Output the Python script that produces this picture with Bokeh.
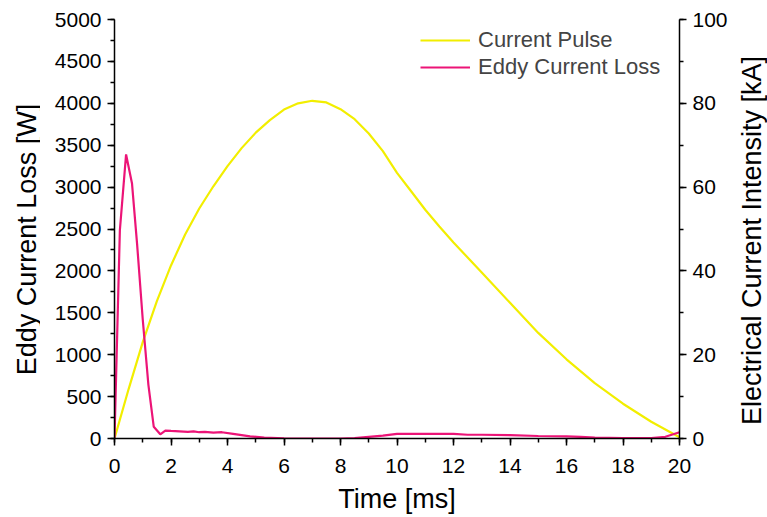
import math
from bokeh.plotting import figure
from bokeh.layouts import row
from bokeh.models import Range1d, LinearAxis, SingleIntervalTicker, Legend, LegendItem
from bokeh.core.properties import value
from bokeh.embed import file_html
from bokeh.resources import INLINE

# Eddy current loss [W] vs time [ms]
eddy_t = [0, 0.19, 0.41, 0.62, 0.8, 1.0, 1.2, 1.39, 1.62, 1.8, 2.0, 2.3, 2.6, 2.8, 3.0, 3.2, 3.5, 3.8,
          4.2, 4.8, 5.3, 6.0, 7.0, 8.0, 8.5, 9.0, 9.5, 10.0, 10.5, 11.0, 12.0, 12.5, 13.0, 14.0,
          15.0, 16.0, 16.5, 17.0, 18.0, 19.0, 19.5, 20.0]
eddy_w = [0, 2485, 3390, 3042, 2320, 1420, 640, 140, 50, 95, 90, 85, 80, 85, 75, 80, 70, 75,
          55, 25, 12, 3, 0, 0, 5, 20, 35, 55, 55, 55, 55, 45, 45, 40,
          30, 25, 20, 10, 5, 5, 20, 75]

# Current pulse [kA] vs time [ms]
pulse_t = [0, 0.5, 1, 1.5, 2, 2.5, 3, 3.5, 4, 4.5, 5, 5.5, 6, 6.5, 7, 7.5, 8, 8.5, 9, 9.5, 10,
           10.5, 11, 11.5, 12, 13, 14, 15, 16, 17, 18, 19, 20]
pulse_ka = [0, 11.8, 23, 32.8, 41.3, 48.7, 54.9, 60.2, 65, 69.3, 73, 76, 78.5, 80, 80.6, 80.2, 78.6, 76.2,
            72.8, 68.6, 63.4, 59, 54.6, 50.6, 46.8, 39.6, 32.4, 25.2, 18.9, 13.2, 8.3, 4, 0.3]

x_title = "Time [ms]"
left_title = "Eddy Current Loss [W]"
right_title = "Electrical Current Intensity [kA]"
series_names = ["Current Pulse", "Eddy Current Loss"]

YELLOW = "#f2ee00"
PINK = "#ec1477"
FONT = "Liberation Sans"
H = 517
TOP, BOTTOM = 19, 79
LEFT_W, MAIN_W, RIGHT_W = 40, 690, 37

p = figure(width=MAIN_W, height=H, output_backend="svg", toolbar_location=None,
           x_range=Range1d(0, 20), y_range=Range1d(0, 5000),
           min_border_left=74, min_border_right=50, min_border_top=TOP, min_border_bottom=BOTTOM)
p.outline_line_color = None
p.xgrid.visible = False
p.ygrid.visible = False
p.background_fill_color = "white"
p.border_fill_color = "white"

p.extra_y_ranges = {"ka": Range1d(0, 100)}
right = LinearAxis(y_range_name="ka",
                   ticker=SingleIntervalTicker(interval=20, num_minor_ticks=2))
p.add_layout(right, "right")

p.xaxis.ticker = SingleIntervalTicker(interval=2, num_minor_ticks=2)
p.yaxis[0].ticker = SingleIntervalTicker(interval=500, num_minor_ticks=2)
p.xaxis.axis_label = x_title

for ax in [p.xaxis[0], p.yaxis[0], right]:
    ax.axis_line_width = 1.5
    ax.axis_line_color = "black"
    ax.major_tick_line_width = 1.5
    ax.minor_tick_line_width = 1.5
    ax.major_tick_out = 7
    ax.major_tick_in = 0
    ax.minor_tick_out = 4
    ax.minor_tick_in = 0
    ax.major_label_text_font = FONT
    ax.major_label_text_font_size = "21px"
    ax.major_label_text_color = "black"
    ax.axis_label_text_font = FONT
    ax.axis_label_text_font_size = "27px"
    ax.axis_label_text_font_style = "normal"
    ax.axis_label_text_color = "black"
    ax.major_label_standoff = 6

p.xaxis[0].major_label_standoff = 13
p.xaxis[0].axis_label_standoff = 8

r1 = p.line(pulse_t, pulse_ka, y_range_name="ka", line_color=YELLOW, line_width=2.2)
r2 = p.line(eddy_t, eddy_w, line_color=PINK, line_width=2.2)

legend = Legend(items=[LegendItem(label=series_names[0], renderers=[r1]),
                       LegendItem(label=series_names[1], renderers=[r2])],
                location=(306, 358), border_line_color=None, background_fill_alpha=0,
                label_text_font=FONT, label_text_font_size="22px", glyph_width=50,
                label_standoff=8, spacing=1, padding=4, margin=0)
p.add_layout(legend)


def title_panel(width, text, cx, cy, size):
    # vertical title reading bottom-to-top, centred at cy (pixels from top).
    # The row aligns this panel's frame with the main frame (TOP .. H-BOTTOM),
    # so the y range is set so that data y = H - screen y.
    f = figure(width=width, height=H, output_backend="svg", toolbar_location=None,
               x_range=Range1d(0, width), y_range=Range1d(BOTTOM, H - TOP),
               x_axis_type=None, y_axis_type=None,
               min_border_left=0, min_border_right=0, min_border_top=TOP, min_border_bottom=BOTTOM)
    f.outline_line_color = None
    f.grid.visible = False
    f.background_fill_color = "white"
    f.border_fill_color = "white"
    f.text(x=[cx], y=[H - cy], text=[text], angle=math.pi / 2,
           text_align="center", text_baseline="middle",
           text_font=value(FONT), text_font_size=size, text_color="black")
    return f


left_panel = title_panel(LEFT_W, left_title, 26, 239, "27px")
right_panel = title_panel(RIGHT_W, right_title, 21, 240, "27px")

layout = row(left_panel, p, right_panel, spacing=0)

open("out.html", "w").write(file_html(layout, INLINE))
